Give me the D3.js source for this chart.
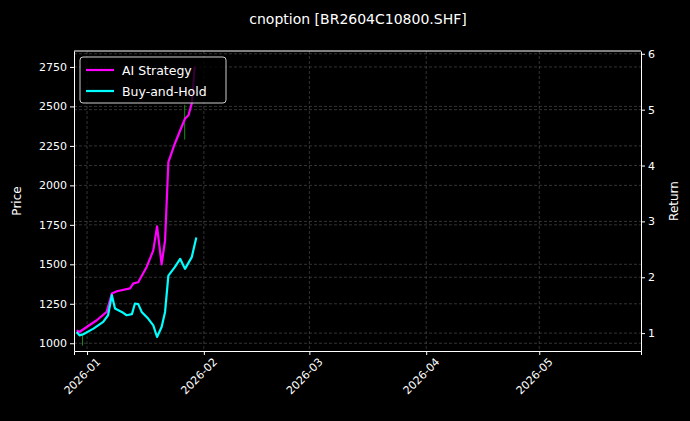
<!DOCTYPE html>
<html>
<head>
<meta charset="utf-8">
<script src="https://cdn.jsdelivr.net/npm/d3@7"></script>
<style>
  body { margin: 0; background: #000; }
  text { font-family: "DejaVu Sans", sans-serif; fill: #fff; }
</style>
</head>
<body>
<div id="chart"></div>
<script>
// chart data
var aiDates = ["2025-12-29T06","2025-12-30T00","2025-12-31T22","2026-01-03T14","2026-01-06T05","2026-01-07T14","2026-01-08T22",
  "2026-01-12T10","2026-01-13T07","2026-01-14T14","2026-01-16T19","2026-01-18T14","2026-01-19T14","2026-01-20T19",
  "2026-01-21T17","2026-01-22T14","2026-01-24T07","2026-01-26T02","2026-01-27T00","2026-01-27T22","2026-01-28T19","2026-01-29T14"];
var aiReturn = [1.05,1.02,1.11,1.23,1.38,1.71,1.75,1.80,1.89,1.91,2.18,2.48,2.91,2.23,2.66,4.06,4.39,4.69,4.84,4.90,5.11,5.77];

var bhDates = ["2025-12-29T06","2025-12-30T00","2025-12-31T00","2026-01-02T17","2026-01-05T07","2026-01-06T14","2026-01-07T14",
  "2026-01-08T10","2026-01-10T05","2026-01-11T12","2026-01-12T22","2026-01-13T17","2026-01-14T14","2026-01-15T12",
  "2026-01-17T05","2026-01-18T14","2026-01-19T14","2026-01-20T19","2026-01-21T17","2026-01-22T14","2026-01-24T07",
  "2026-01-25T17","2026-01-27T00","2026-01-28T19","2026-01-30T00"];
var bhReturn = [1.02,0.96,0.98,1.08,1.20,1.32,1.68,1.44,1.38,1.32,1.34,1.53,1.52,1.38,1.26,1.14,0.93,1.11,1.38,2.03,2.18,2.33,2.15,2.36,2.71];

// the few candle wicks that show through
var candleDates = ["2025-12-30T19","2026-01-26T22"];
var candleLow = [985, 2290];
var candleHigh = [1060, 2510];

var priceTicks = [1000,1250,1500,1750,2000,2250,2500,2750];
var returnTicks = [1,2,3,4,5,6];
var monthTicks = ["2026-01-01T00","2026-02-01T00","2026-03-01T00","2026-04-01T00","2026-05-01T00"];

var svgWidth = 690, svgHeight = 421;
var margin = { top: 51, right: 49, bottom: 70, left: 74 };
var width = svgWidth - margin.left - margin.right;
var height = svgHeight - margin.top - margin.bottom;

var svg = d3.select("#chart").append("svg")
  .attr("width", svgWidth).attr("height", svgHeight)
  .style("background", "#000");
var g = svg.append("g").attr("transform", `translate(${margin.left},${margin.top})`);

var parse = d3.timeParse("%Y-%m-%dT%H");
var x = d3.scaleTime()
  .domain([parse("2025-12-28T13"), parse("2026-05-28T00")])
  .range([0, width]);
var yPrice = d3.scaleLinear().domain([951, 2851]).range([height, 0]);
var yRet = d3.scaleLinear().domain([0.68, 6.05]).range([height, 0]);

// grid
function grid(vals, yf) {
  g.append("g").selectAll("line").data(vals).enter().append("line")
    .attr("x1", 0).attr("x2", width)
    .attr("y1", d => yf(d)).attr("y2", d => yf(d))
    .attr("stroke", "#555").attr("stroke-width", 0.6).attr("stroke-dasharray", "3,2");
}
grid(priceTicks, yPrice);
grid(returnTicks, yRet);
g.append("g").selectAll("line").data(monthTicks).enter().append("line")
  .attr("x1", d => x(parse(d))).attr("x2", d => x(parse(d)))
  .attr("y1", 0).attr("y2", height)
  .attr("stroke", "#555").attr("stroke-width", 0.6).attr("stroke-dasharray", "3,2");

// candle wicks
g.append("g").selectAll("line").data(candleDates).enter().append("line")
  .attr("x1", d => x(parse(d))).attr("x2", d => x(parse(d)))
  .attr("y1", (d, i) => yPrice(candleLow[i])).attr("y2", (d, i) => yPrice(candleHigh[i]))
  .attr("stroke", "#1a8a1a").attr("stroke-width", 1);

// lines
function drawLine(dates, vals, color) {
  var pts = dates.map((d, i) => [parse(d), vals[i]]);
  g.append("path").datum(pts)
    .attr("fill", "none").attr("stroke", color).attr("stroke-width", 2.2)
    .attr("stroke-linejoin", "round")
    .attr("d", d3.line().x(d => x(d[0])).y(d => yRet(d[1])));
}
drawLine(aiDates, aiReturn, "#ff00ff");
drawLine(bhDates, bhReturn, "#00ffff");

// axes
function styleAxis(sel) {
  sel.selectAll(".domain").attr("stroke", "#fff");
  sel.selectAll(".tick line").attr("stroke", "#fff");
  sel.selectAll("text").attr("font-size", 11).attr("fill", "#fff").attr("font-family", "DejaVu Sans");
}
var bottom = g.append("g").attr("transform", `translate(0,${height})`)
  .call(d3.axisBottom(x).tickValues(monthTicks.map(parse)).tickFormat(d3.timeFormat("%Y-%m")).tickSizeOuter(0).tickSize(4));
styleAxis(bottom);
bottom.selectAll("text").attr("text-anchor", "end")
  .attr("transform", "translate(4,2) rotate(-45)").attr("dy", "0.6em");

var left = g.append("g").call(d3.axisLeft(yPrice).tickValues(priceTicks).tickFormat(d3.format("d")).tickSize(4).tickSizeOuter(0));
styleAxis(left);
var right = g.append("g").attr("transform", `translate(${width},0)`)
  .call(d3.axisRight(yRet).tickValues(returnTicks).tickFormat(d3.format("d")).tickSize(4).tickSizeOuter(0));
styleAxis(right);
g.append("line").attr("x1", 0).attr("x2", width).attr("y1", 0).attr("y2", 0).attr("stroke", "#fff");

// labels
svg.append("text").attr("x", 358).attr("y", 24).attr("text-anchor", "middle")
  .attr("font-size", 14).text("cnoption [BR2604C10800.SHF]");
svg.append("text").attr("transform", "translate(21,201) rotate(-90)")
  .attr("text-anchor", "middle").attr("font-size", 12).text("Price");
svg.append("text").attr("transform", "translate(678,201) rotate(-90)")
  .attr("text-anchor", "middle").attr("font-size", 12).text("Return");

// legend
var legend = svg.append("g").attr("transform", "translate(80,57)");
legend.append("rect").attr("width", 146).attr("height", 46).attr("rx", 3)
  .attr("fill", "#000").attr("fill-opacity", 0.8).attr("stroke", "#ccc");
[["AI Strategy", "#ff00ff"], ["Buy-and-Hold", "#00ffff"]].forEach(function(item, i) {
  var yy = 13 + i * 21;
  legend.append("line").attr("x1", 6).attr("x2", 34).attr("y1", yy).attr("y2", yy)
    .attr("stroke", item[1]).attr("stroke-width", 2.2);
  legend.append("text").attr("x", 42).attr("y", yy + 4.5).attr("font-size", 12.5).text(item[0]);
});
</script>
</body>
</html>
